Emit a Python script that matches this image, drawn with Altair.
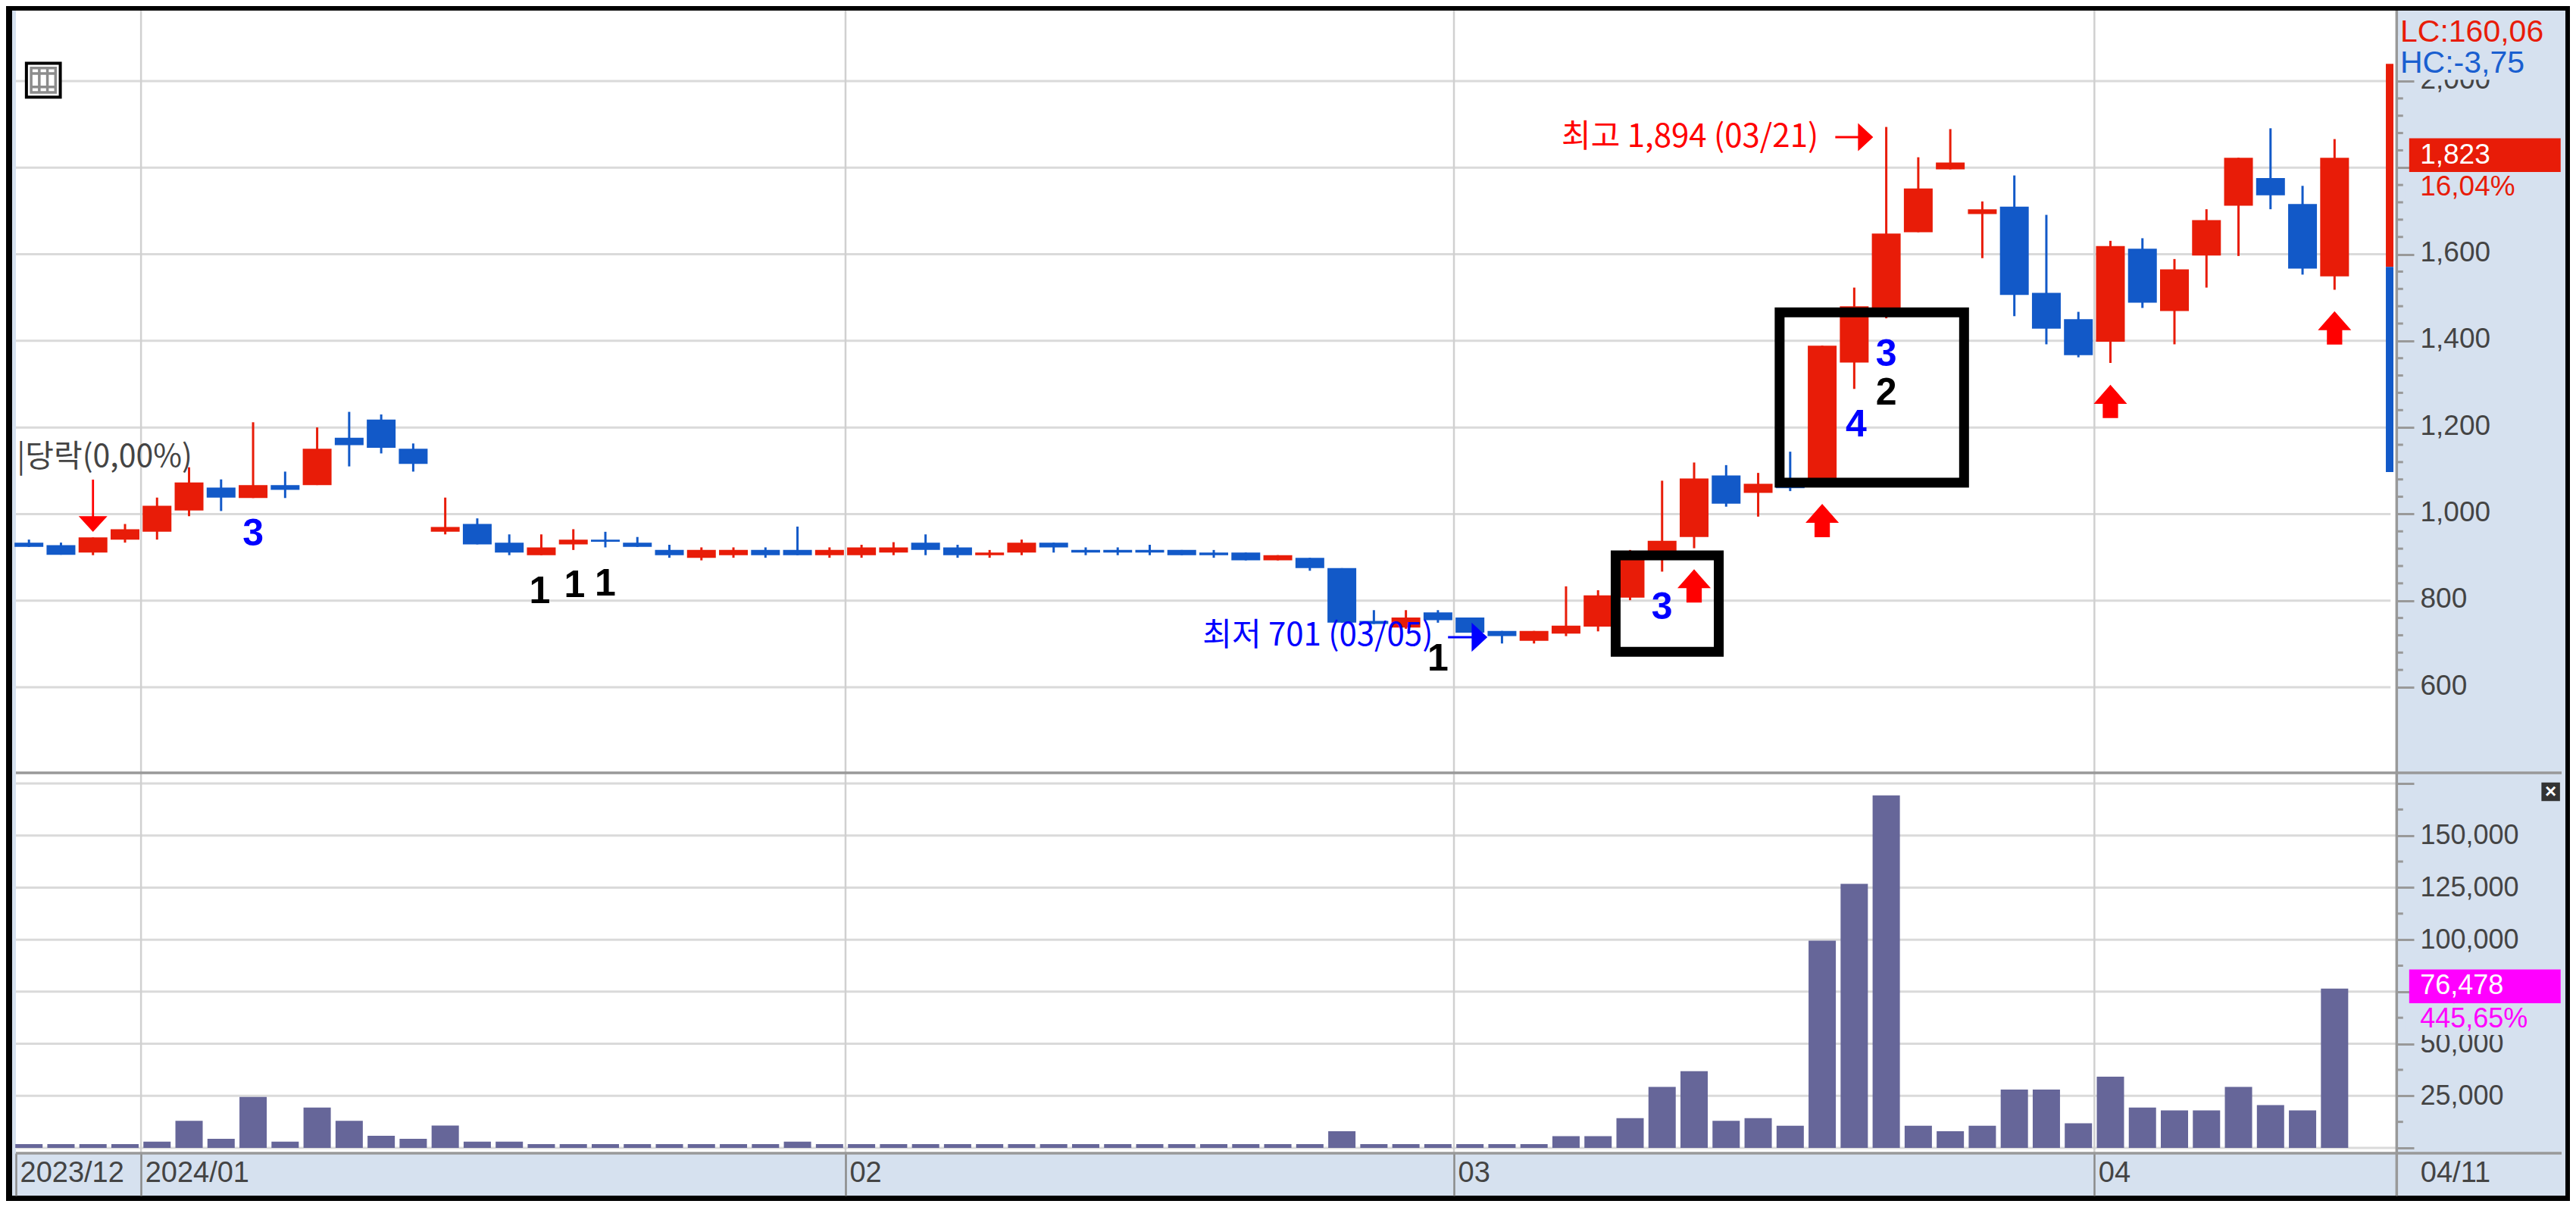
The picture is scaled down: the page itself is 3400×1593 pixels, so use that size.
import altair as alt
import pandas as pd

# ---- candles (top of body, bottom of body, high, low, colour) ----
body_top = [934,928,946,965,1019,1073,1061,1067,1067,1151,1176,1218,1151,970,977,934,923,941,941,934,917,917,917,917,917,917,
            923,923,934,923,911,934,934,917,917,917,917,911,911,905,899,875,753,761,773,761,730,730,742,812,895,938,1082,1089,1070,1070,
            1389,1480,1648,1752,1812,1704,1710,1511,1450,1619,1613,1565,1679,1823,1776,1716,1823]
body_bot = [924,906,911,941,959,1008,1038,1037,1056,1067,1159,1153,1116,959,930,911,905,930,936,924,905,899,905,905,905,905,
            905,911,917,905,905,911,923,911,911,911,905,905,893,893,875,749,746,738,755,726,718,707,724,740,807,894,947,1024,1049,1060,
            1082,1350,1470,1651,1796,1693,1506,1428,1367,1398,1488,1469,1597,1712,1736,1567,1549]
high =     [941,934,946,977,1038,1108,1080,1212,1098,1200,1236,1230,1163,1038,990,953,953,965,959,947,929,923,923,923,971,923,
            929,935,953,929,917,941,934,923,923,929,917,917,911,905,899,875,778,778,778,761,730,730,833,824,917,1077,1119,1113,1095,1144,
            1389,1523,1894,1824,1889,1722,1782,1691,1467,1631,1637,1589,1704,1823,1891,1758,1866]
low =      [924,906,905,934,941,995,1007,1037,1037,1067,1110,1140,1098,953,930,905,905,917,923,924,899,893,899,899,905,899,
            899,905,905,899,899,905,911,905,905,905,905,899,893,893,869,749,746,735,749,726,701,701,718,729,801,867,921,1017,994,1053,
            1082,1289,1452,1651,1796,1591,1457,1392,1362,1349,1476,1392,1523,1596,1704,1553,1518]
colour = list("bbrrrrbrbrbbbrbbrrbbbrrbbr" + "rrbbrrbbbbbbbrbbbrbbbrr" + "rrrrbrbrrrrrrbbbrbrrrbbr")

# ---- volume ----
volume = [1800,1800,1800,1800,3000,13050,4400,24450,3000,19400,13050,5800,4400,10700,3000,3000,1800,1800,1800,1800,1800,1800,1800,1800,3000,1800,
          1800,1800,1800,1800,1800,1800,1800,1800,1800,1800,1800,1800,1800,1800,1800,8000,1800,1800,1800,1800,1800,1800,5600,5600,14300,29300,36800,13050,14300,10600,
          99500,126800,169300,10600,8000,10600,28000,28000,11800,34200,19400,18000,18000,29300,20600,18000,76478]

price_ticks = [600,800,1000,1200,1400,1600,1800,2000]
price_minor = [v for v in range(640,2000,40) if v % 200 != 0]
vol_ticks = [0,25000,50000,75000,100000,125000,150000,175000]
vol_minor = [12500,37500,62500,87500,112500,137500,162500]

XMIN, XMAX = -0.407, 79.09
month_i = [3.5,25.5,44.5,64.5]
x_tick_i = [XMIN,3.5,25.5,44.5,64.5,73.94]
x_tick_labels = ["2023/12","2024/01","02","03","04","04/11"]

RED,BLUE,VOL,PANEL,GRID,AX,TXT = "#E81C08","#1259C8","#666699","#D6E1EF","#DADADA","#999999","#444444"
SANS,CJK = "Liberation Sans","Noto Sans CJK KR"

xs = alt.Scale(domain=[XMIN,XMAX],range=[0,3370],nice=False,zero=False)
ps = alt.Scale(domain=[600,2000],range=[893,93],nice=False,zero=False)
vs = alt.Scale(domain=[0,175000],range=[1501,1020],nice=False,zero=False)

def X(f="i"): return alt.X(f+":Q",scale=xs,axis=None,title=None)
def P(f="p"): return alt.Y(f+":Q",scale=ps,axis=None,title=None)
def V(f="v"): return alt.Y(f+":Q",scale=vs,axis=None,title=None)

n = len(volume)
df = pd.DataFrame(dict(i=list(range(n)),top=body_top,bot=body_bot,high=high,low=low,c=colour,v=volume))
color = alt.Color("c:N",scale=alt.Scale(domain=["r","b"],range=[RED,BLUE]),legend=None)

x_axis = alt.Axis(values=x_tick_i,orient="bottom",offset=-56,domain=False,grid=False,tickSize=56,tickWidth=2.5,tickColor="#8A8A8A",
    labelExpr="%s[indexof(%s,datum.value)]"%(x_tick_labels,x_tick_i),labelAlign="left",labelBaseline="middle",labelPadding=-30,
    labelOffset={"condition":{"test":"datum.value>70","value":31},"value":5},labelOverlap=False,labelFlush=False,
    labelFont=SANS,labelFontSize=38,labelColor=TXT,title=None)
p_axis = alt.Axis(values=price_ticks,orient="right",offset=-222,domain=False,grid=False,tickSize=22,tickWidth=3,tickColor=AX,
    labelExpr="format(datum.value,',')",labelFont=SANS,labelFontSize=37,labelColor=TXT,labelPadding=8,labelOffset=-2,labelOverlap=False,labelFlush=False,title=None)
v_axis = alt.Axis(values=vol_ticks,orient="right",offset=-222,domain=False,grid=False,tickSize=22,tickWidth=3,tickColor=AX,
    labelExpr="datum.value==0||datum.value==175000?'':format(datum.value,',')",labelFont=SANS,labelFontSize=36,labelColor=TXT,
    labelPadding=8,labelOverlap=False,labelFlush=False,title=None)

layers = []
# white plot panel, carrying the bottom date axis (axes sit on the view fill, below all marks)
layers.append(alt.Chart(pd.DataFrame(dict(a=[XMIN],b=[73.94]))).mark_rect(color="white")
    .encode(x=alt.X("a:Q",scale=xs,axis=x_axis,title=None),x2="b:Q",y=alt.value(0),y2=alt.value(1508)))
# price axis, volume axis carried by the gridline layers
layers.append(alt.Chart(pd.DataFrame(dict(p=price_ticks,a=[XMIN]*8,b=[73.75]*8))).mark_rule(color=GRID,strokeWidth=3)
    .encode(x=X("a"),x2="b:Q",y=alt.Y("p:Q",scale=ps,axis=p_axis,title=None)))
layers.append(alt.Chart(pd.DataFrame(dict(v=vol_ticks,a=[XMIN]*8,b=[73.94]*8))).mark_rule(color=GRID,strokeWidth=3)
    .encode(x=X("a"),x2="b:Q",y=alt.Y("v:Q",scale=vs,axis=v_axis,title=None)))
layers.append(alt.Chart(pd.DataFrame(dict(i=month_i))).mark_rule(color="#D0D0D0",strokeWidth=2.5)
    .encode(x=X(),y=alt.value(0),y2=alt.value(1508)))
# separators
layers.append(alt.Chart(pd.DataFrame(dict(a=[XMIN],b=[XMAX]))).mark_rule(color=AX,strokeWidth=3.5)
    .encode(x=X("a"),x2="b:Q",y=alt.value(1006)))
layers.append(alt.Chart(pd.DataFrame(dict(a=[XMIN],b=[XMAX]))).mark_rule(color=AX,strokeWidth=3.5)
    .encode(x=X("a"),x2="b:Q",y=alt.value(1508)))
layers.append(alt.Chart(pd.DataFrame(dict(i=[73.94]))).mark_rule(color=AX,strokeWidth=3.5)
    .encode(x=X(),y=alt.value(0),y2=alt.value(1564)))
# candles
layers.append(alt.Chart(df).mark_rule(strokeWidth=3).encode(x=X(),y=P("low"),y2="high:Q",color=color))
layers.append(alt.Chart(df).mark_bar(size=38,orient="vertical").encode(x=X(),y=P("bot"),y2="top:Q",color=color))
# volume
layers.append(alt.Chart(df).mark_bar(size=36,orient="vertical",color=VOL).encode(x=X(),y=V()))
# low-high range bar
range_df = pd.DataFrame(dict(i=[73.72,73.72],a=[2040,1571],b=[1571,1097],c=["r","b"]))
layers.append(alt.Chart(range_df).mark_rule(strokeWidth=10).encode(x=X(),y=P("a"),y2="b:Q",color=color))
# minor ticks
layers.append(alt.Chart(pd.DataFrame(dict(p=price_minor,a=[73.94]*len(price_minor),b=[74.14]*len(price_minor))))
    .mark_rule(color=AX,strokeWidth=3).encode(x=X("a"),x2="b:Q",y=P()))
layers.append(alt.Chart(pd.DataFrame(dict(v=vol_minor,a=[73.94]*7,b=[74.14]*7)))
    .mark_rule(color=AX,strokeWidth=3).encode(x=X("a"),x2="b:Q",y=V()))

# boxes
box_df = pd.DataFrame(dict(a=[49.55,54.67],b=[52.77,60.43],p1=[904.5,1466],p2=[682,1072.5]))
layers.append(alt.Chart(box_df).mark_rect(fillOpacity=0,stroke="black",strokeWidth=13)
    .encode(x=X("a"),x2="b:Q",y=P("p1"),y2="p2:Q"))

# arrows (custom symbol paths are drawn at sqrt(size)/2 per unit)
UP = "M0,-0.5 L0.5,0.07 L0.23,0.07 L0.23,0.5 L-0.23,0.5 L-0.23,0.07 L-0.5,0.07 Z"
RIGHT = "M-0.5,-0.03 L0.1,-0.03 L0.1,-0.37 L0.5,0 L0.1,0.37 L0.1,0.03 L-0.5,0.03 Z"
DOWN = "M-0.02,-0.5 L0.02,-0.5 L0.02,0.2 L0.275,0.2 L0,0.5 L-0.275,0.2 L-0.02,0.2 Z"
up_i,up_p = [52,56,65,72],[834,985,1260,1430]
layers.append(alt.Chart(pd.DataFrame(dict(i=up_i,p=up_p))).mark_point(shape=UP,filled=True,size=7744,color="#FF0000",opacity=1,strokeWidth=0)
    .encode(x=X(),y=P()))
layers.append(alt.Chart(pd.DataFrame(dict(i=[57.0],p=[1870.6]))).mark_point(shape=RIGHT,filled=True,size=10000,color="#FF0000",opacity=1,strokeWidth=0)
    .encode(x=X(),y=P()))
layers.append(alt.Chart(pd.DataFrame(dict(i=[44.93],p=[715.5]))).mark_point(shape=RIGHT,filled=True,size=10800,color="#0000FF",opacity=1,strokeWidth=0)
    .encode(x=X(),y=P()))
layers.append(alt.Chart(pd.DataFrame(dict(i=[2],p=[1019]))).mark_point(shape=DOWN,filled=True,size=19044,color="#FF0000",opacity=1,strokeWidth=0)
    .encode(x=X(),y=P()))

# grid icon
GRIDICON = "M-0.36,-0.36 H0.36 V0.36 H-0.36 Z M-0.12,-0.36 V0.36 M0.12,-0.36 V0.36 M-0.36,-0.2 H0.36 M-0.36,0.2 H0.36"
layers.append(alt.Chart(pd.DataFrame(dict(i=[0.45],p=[2002]))).mark_point(shape="square",filled=True,size=2000,fill="white",stroke="black",strokeWidth=4,opacity=1)
    .encode(x=X(),y=P()))
layers.append(alt.Chart(pd.DataFrame(dict(i=[0.45],p=[2002]))).mark_point(shape=GRIDICON,size=8000,stroke="#8C8C8C",strokeWidth=3.5,opacity=1)
    .encode(x=X(),y=P()))

# right-hand read-outs
pbg = pd.DataFrame(dict(a=[73.98],b=[XMAX],p1=[2105],p2=[2003]))
layers.append(alt.Chart(pbg).mark_rect(color=PANEL).encode(x=X("a"),x2="b:Q",y=P("p1"),y2="p2:Q"))
layers.append(alt.Chart(pd.DataFrame(dict(a=[74.33],b=[79.06],p1=[1868],p2=[1790]))).mark_rect(color=RED).encode(x=X("a"),x2="b:Q",y=P("p1"),y2="p2:Q"))
layers.append(alt.Chart(pd.DataFrame(dict(a=[74.2],b=[79.06],p1=[1790],p2=[1729]))).mark_rect(color=PANEL).encode(x=X("a"),x2="b:Q",y=P("p1"),y2="p2:Q"))
layers.append(alt.Chart(pd.DataFrame(dict(a=[74.33],b=[79.06],v1=[85700],v2=[69400]))).mark_rect(color="#FF00FF").encode(x=X("a"),x2="b:Q",y=V("v1"),y2="v2:Q"))
layers.append(alt.Chart(pd.DataFrame(dict(a=[74.2],b=[79.06],v1=[69400],v2=[54200]))).mark_rect(color=PANEL).encode(x=X("a"),x2="b:Q",y=V("v1"),y2="v2:Q"))
layers.append(alt.Chart(pd.DataFrame(dict(i=[78.75],v=[171000]))).mark_point(shape="square",filled=True,size=600,color="#333333",opacity=1,strokeWidth=0).encode(x=X(),y=V()))

def ptext(i,p,s,col,size,font=SANS,align="left",weight="normal"):
    return alt.Chart(pd.DataFrame(dict(i=[i],p=[p],s=[s]))).mark_text(align=align,baseline="middle",color=col,fontSize=size,font=font,fontWeight=weight).encode(x=X(),y=P(),text="s:N")
def vtext(i,v,s,col,size,font=SANS,align="left",weight="normal"):
    return alt.Chart(pd.DataFrame(dict(i=[i],v=[v],s=[s]))).mark_text(align=align,baseline="middle",color=col,fontSize=size,font=font,fontWeight=weight).encode(x=X(),y=V(),text="s:N")

layers += [
    ptext(74.05,2112,"LC:160,06",RED,41),
    ptext(74.05,2040,"HC:-3,75","#1A5FD0",41),
    ptext(74.67,1829,"1,823","white",37),
    ptext(74.67,1755,"16,04%",RED,37),
    vtext(74.67,77800,"76,478","white",36),
    vtext(74.67,62000,"445,65%","#FF00FF",36),
    vtext(78.75,171000,"×","white",26,align="center",weight="bold"),
    ptext(-0.38,1131,"|당락(0,00%)",TXT,41,font=CJK),
    ptext(36.65,719,"최저 701 (03/05)","#0000FF",42,font=CJK),
    ptext(47.86,1870,"최고 1,894 (03/21)","#FF0000",42,font=CJK),
]
# pattern counts
num_i = [7.0,15.95,17.04,18.0,44.0,51.0,58.0,58.0,57.06]
num_p = [953.5,820.5,834.5,838,665,784,1368,1279,1205.5]
num_s = ["3","1","1","1","1","3","3","2","4"]
num_c = ["#0000FF","#000000","#000000","#000000","#000000","#0000FF","#0000FF","#000000","#0000FF"]
layers.append(alt.Chart(pd.DataFrame(dict(i=num_i,p=num_p,s=num_s,c=num_c)))
    .mark_text(align="center",baseline="middle",fontSize=50,font=SANS,fontWeight="bold")
    .encode(x=X(),y=P(),text="s:N",color=alt.Color("c:N",scale=None,legend=None)))

chart = (alt.layer(*layers)
    .resolve_scale(y="independent",color="independent")
    .resolve_axis(y="independent",x="independent")
    .properties(width=3370,height=1564,background="black",
                padding={"left":8,"top":6,"right":6,"bottom":7},
                autosize=alt.AutoSizeParams(type="none"))
    .configure_view(fill=PANEL,stroke=None))

chart.save("out.html",embed_options={"renderer":"svg","actions":False})
